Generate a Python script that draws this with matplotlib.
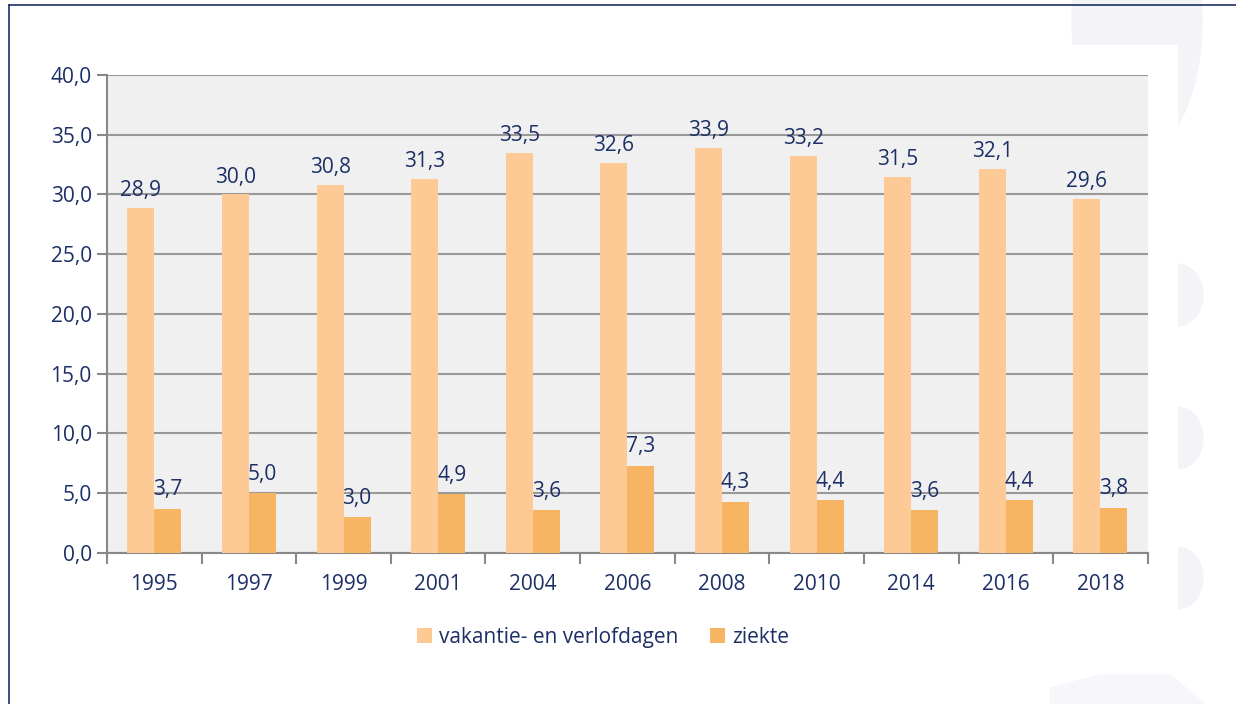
import matplotlib.pyplot as plt
import numpy as np
from matplotlib.patches import Ellipse, Rectangle, Polygon

plt.rcParams['font.family'] = ['Open Sans', 'DejaVu Sans']

# Data
years = ['1995', '1997', '1999', '2001', '2004', '2006', '2008', '2010', '2014', '2016', '2018']
vakantie = [28.9, 30.0, 30.8, 31.3, 33.5, 32.6, 33.9, 33.2, 31.5, 32.1, 29.6]
ziekte = [3.7, 5.0, 3.0, 4.9, 3.6, 7.3, 4.3, 4.4, 3.6, 4.4, 3.8]
yticks = [0, 5, 10, 15, 20, 25, 30, 35, 40]

navy = '#1c2f66'
light = '#fdca96'
dark = '#f7b463'
grid = '#999999'
deco = '#f3f3f8'

fig = plt.figure(figsize=(12.36, 7.04), dpi=100)

# decorative background shapes on the right
bg = fig.add_axes([0, 0, 1, 1], zorder=-5)
bg.set_xlim(0, 1236)
bg.set_ylim(704, 0)
bg.axis('off')
bg.add_patch(Ellipse((1137, 20), 130, 270, color=deco, zorder=1))
for cy in [295, 438, 578]:
    bg.add_patch(Ellipse((1177, cy), 52, 62, color=deco, zorder=1))
bg.add_patch(Rectangle((1060, 45), 117, 660, color='white', zorder=2))
bg.add_patch(Polygon([[1050, 704], [1050, 688], [1100, 675], [1170, 675], [1205, 704]],
                     closed=True, color='#f7f7fb', zorder=3))
# frame lines at top and left
bg.plot([9, 1236], [5, 5], color=navy, lw=1.2, zorder=4)
bg.plot([9, 9], [5, 704], color=navy, lw=1.2, zorder=4)

ax = fig.add_axes([0.0866, 0.2145, 0.842, 0.679])
ax.set_facecolor('#f0f0f0')

x = np.arange(len(years))
w = 0.285
b1 = ax.bar(x - w / 2, vakantie, w, color=light, label='vakantie- en verlofdagen', zorder=3)
b2 = ax.bar(x + w / 2, ziekte, w, color=dark, label='ziekte', zorder=3)

for xi, v in zip(x, vakantie):
    ax.annotate(f'{v:.1f}'.replace('.', ','), (xi - w / 2, v), xytext=(0, 5),
                textcoords='offset points', ha='center', va='bottom',
                fontsize=15, color=navy, zorder=4)
for xi, v in zip(x, ziekte):
    ax.annotate(f'{v:.1f}'.replace('.', ','), (xi + w / 2, v), xytext=(0, 6),
                textcoords='offset points', ha='center', va='bottom',
                fontsize=15, color=navy, zorder=4)

ax.set_xlim(-0.5, len(years) - 0.5)
ax.set_ylim(0, 40)
ax.set_yticks(yticks)
ax.set_yticklabels([f'{t:.1f}'.replace('.', ',') for t in yticks])
ax.yaxis.grid(True, color=grid, lw=1.5, zorder=0)
ax.set_axisbelow(True)

ax.set_xticks(x)
ax.set_xticklabels(years)
ax.set_xticks(np.arange(len(years) + 1) - 0.5, minor=True)
ax.tick_params(axis='x', which='major', length=0, pad=15, labelsize=15, labelcolor=navy)
ax.tick_params(axis='x', which='minor', length=8, width=1.5, color='#888888')
ax.tick_params(axis='y', length=7, width=1.5, color='#888888', pad=4, labelsize=15, labelcolor=navy)

for s in ['top', 'right']:
    ax.spines[s].set_visible(False)
for s in ['left', 'bottom']:
    ax.spines[s].set_color('#888888')
    ax.spines[s].set_linewidth(1.5)

fig.legend(handles=[b1, b2], loc='center', bbox_to_anchor=(0.488, 0.095), ncol=2,
           frameon=False, fontsize=15, labelcolor=navy, handlelength=0.72,
           handleheight=0.72, handletextpad=0.35, columnspacing=1.5)

fig.savefig('out.png', dpi=100)
